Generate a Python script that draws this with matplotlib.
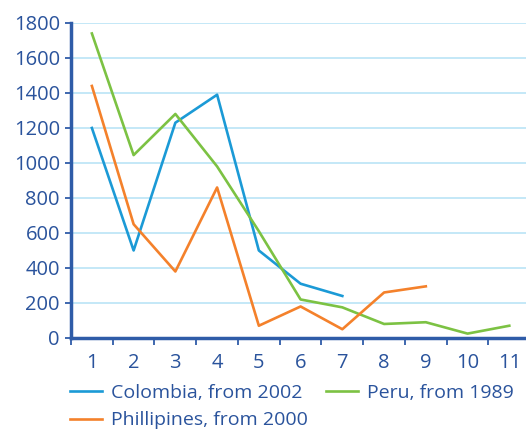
import matplotlib.pyplot as plt
import numpy as np

plt.rcParams['font.family'] = ['Open Sans', 'DejaVu Sans']

years = list(range(1, 12))
colombia = [1200, 500, 1230, 1390, 500, 310, 240]
peru = [1740, 1045, 1280, 980, 610, 220, 175, 80, 90, 25, 70]
philippines = [1440, 650, 380, 860, 70, 180, 50, 260, 295]

text_col = '#2a539c'
spine_col = '#2f5ca8'
grid_col = '#bfe6f7'

fig = plt.figure(figsize=(5.26, 4.30), dpi=100)
ax = fig.add_axes([0.135, 0.214, 0.865, 0.7326])

l1, = ax.plot(years[:len(colombia)], colombia, color='#1b9ad6', lw=1.9, label='Colombia, from 2002')
l2, = ax.plot(years[:len(peru)], peru, color='#7cc243', lw=1.9, label='Peru, from 1989')
l3, = ax.plot(years[:len(philippines)], philippines, color='#f4812b', lw=1.9, label='Phillipines, from 2000')

ax.set_xlim(0.5, 11.4)
ax.set_ylim(0, 1800)
ax.set_yticks(np.arange(0, 1801, 200))
ax.set_xticks(years)
ax.set_xticks(np.arange(0.5, 11.5, 1), minor=True)
ax.grid(axis='y', color=grid_col, lw=1.3)
ax.set_axisbelow(True)

for s in ['top', 'right']:
    ax.spines[s].set_visible(False)
for s in ['left', 'bottom']:
    ax.spines[s].set_color(spine_col)
    ax.spines[s].set_linewidth(2.5)

ax.tick_params(axis='x', which='major', length=0, pad=11, labelsize=14.5, labelcolor=text_col)
ax.tick_params(axis='x', which='minor', length=5, width=1.3, color=spine_col, direction='out')
ax.tick_params(axis='y', length=4, width=1.3, color=spine_col, labelsize=14.5, labelcolor=text_col, pad=4)

leg = fig.legend(handles=[l1, l3, l2], ncol=2, loc='upper left', bbox_to_anchor=(0.118, 0.126),
                 frameon=False, fontsize=14, handlelength=1.65, columnspacing=0.95,
                 handletextpad=0.45, labelspacing=0.5, borderaxespad=0)
for t in leg.get_texts():
    t.set_color(text_col)

plt.savefig('out.png', dpi=100)
